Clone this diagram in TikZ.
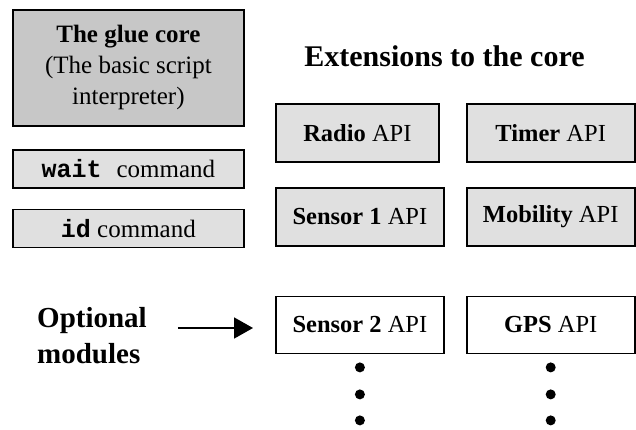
\documentclass[tikz,border=0pt]{standalone}
\usepackage{fontspec}
\setmainfont{Liberation Serif}
\setmonofont{Liberation Mono}
\usetikzlibrary{positioning, arrows.meta}

\definecolor{coregray}{gray}{0.78}
\definecolor{apigray}{gray}{0.88}

\begin{document}
\begin{tikzpicture}[x=1pt, y=1pt]
    \tikzstyle{corebox} = [draw, line width=1.8pt, fill=coregray, minimum width=231pt, minimum height=116pt, align=center, font=\fontsize{25}{31}\selectfont];
    \tikzstyle{cmdbox} = [draw, line width=1.8pt, fill=apigray, minimum width=231pt, minimum height=38pt, font=\fontsize{25}{30}\selectfont];
    \tikzstyle{apibox} = [draw, line width=1.8pt, fill=apigray, minimum width=168pt, minimum height=58pt, font=\fontsize{24.5}{30}\selectfont];
    \tikzstyle{optbox} = [apibox, fill=white, minimum height=57pt];
    \tikzstyle{heading} = [inner sep=0pt, font=\bfseries\fontsize{30}{36}\selectfont];
    \tikzstyle{dotnode} = [circle, fill, inner sep=0pt, minimum size=10pt];

    \useasboundingbox (0,0) rectangle (636,429);

    % the core and its commands
    \node[corebox, anchor=north west] (core) at (12,420) {\textbf{The glue core}\\(The basic script\\interpreter)};
    \node[cmdbox, below=22pt of core] (wait) {\texttt{\textbf{wait }}command};
    \node[cmdbox, below=20pt of wait] (id) {\texttt{\textbf{id}} command};

    % extensions
    \node[heading, anchor=base] (title) at (444.5,362) {Extensions to the core};

    \node[apibox, minimum width=163pt, anchor=north west] (radio) at (275,326) {\textbf{Radio} API};
    \node[apibox, right=26pt of radio] (timer) {\textbf{Timer} API};
    \node[apibox, below=24pt of radio.south west, anchor=north west] (sensor1) {\textbf{Sensor 1} API};
    \node[apibox, below=24pt of timer] (mobility) {\textbf{Mobility} API};

    % optional modules
    \node[optbox, below=49pt of sensor1] (sensor2) {\textbf{Sensor 2} API};
    \node[optbox, below=49pt of mobility] (gps) {\textbf{GPS} API};

    \node[heading, align=left, anchor=north west, font=\bfseries\fontsize{29}{36}\selectfont] (optional) at (37,122) {Optional\\modules};

    \coordinate (arrowend) at ([yshift=-3pt]sensor2.west);
    \draw[-{Triangle[length=19pt, width=21pt]}, line width=1.8pt, shorten <=31pt, shorten >=22pt] (optional.east |- arrowend) -- (arrowend);

    \node[dotnode] (sdot1) at ([yshift=-13pt]sensor2.south) {};
    \node[dotnode] (sdot2) at ([yshift=-40pt]sensor2.south) {};
    \node[dotnode] (sdot3) at ([yshift=-66pt]sensor2.south) {};
    \node[dotnode] (gdot1) at ([yshift=-13pt]gps.south) {};
    \node[dotnode] (gdot2) at ([yshift=-40pt]gps.south) {};
    \node[dotnode] (gdot3) at ([yshift=-66pt]gps.south) {};
\end{tikzpicture}
\end{document}
